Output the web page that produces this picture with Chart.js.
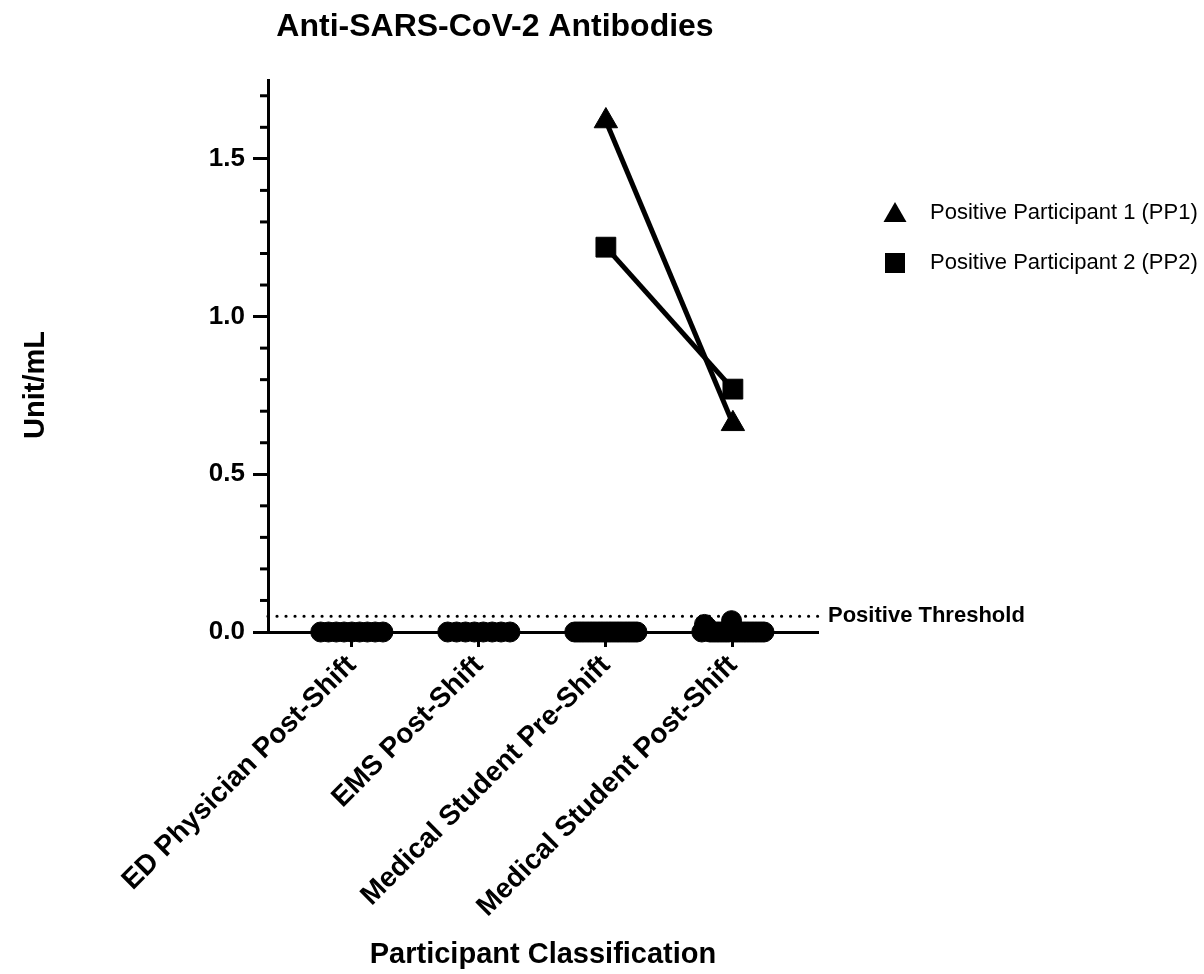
<!DOCTYPE html>
<html>
<head>
<meta charset="utf-8">
<script src="https://cdn.jsdelivr.net/npm/chart.js@4/dist/chart.umd.min.js"></script>
<style>
  html, body { margin: 0; padding: 0; background: #fff; }
  #wrap { width: 1204px; height: 974px; }
</style>
</head>
<body>
<div id="wrap"><canvas id="c" width="1204" height="974"></canvas></div>
<script>
// ---- data ----
const categories = ['ED Physician Post-Shift', 'EMS Post-Shift', 'Medical Student Pre-Shift', 'Medical Student Post-Shift'];
const edPhysicianPost = [0, 0, 0, 0, 0, 0, 0, 0, 0];
const emsPost = [0, 0, 0, 0, 0, 0, 0, 0];
const medStudentPre = [0, 0, 0, 0, 0, 0, 0, 0, 0, 0, 0, 0, 0, 0, 0, 0, 0, 0, 0, 0, 0, 0, 0, 0];
const medStudentPost = [0, 0.024, 0.015, 0, 0, 0, 0, 0, 0, 0, 0, 0.036, 0, 0, 0, 0, 0, 0, 0, 0, 0, 0, 0, 0];
const pp1Values = [1.62, 0.66];   // pre-shift, post-shift
const pp2Values = [1.22, 0.77];
const ppCategoryIdx = [3, 4];
const positiveThreshold = 0.05;
const yTickValues = [0, 0.5, 1.0, 1.5];
const yMinorStep = 0.1;
const Y_MIN = 0, Y_MAX = 1.75;
const X_MIN = 0.34, X_MAX = 4.67;

const FONT = 'Arial, "Liberation Sans", Helvetica, sans-serif';
const SPREAD = 0.245;

function spread(values, cat) {
  const n = values.length;
  return values.map((v, i) => ({ x: cat + (n === 1 ? 0 : -SPREAD + i * 2 * SPREAD / (n - 1)), y: v }));
}

const groupDots = [].concat(
  spread(edPhysicianPost, 1),
  spread(emsPost, 2),
  spread(medStudentPre, 3),
  spread(medStudentPost, 4)
);

const extras = {
  id: 'extras',
  afterDraw(chart) {
    const ctx = chart.ctx;
    const ca = chart.chartArea;
    const ys = chart.scales.y;
    ctx.save();
    // minor ticks
    ctx.strokeStyle = '#000';
    ctx.lineWidth = 3;
    const nMinor = Math.floor(Y_MAX / yMinorStep + 1e-9);
    for (let i = 1; i <= nMinor; i++) {
      if (i % 5 === 0) continue;
      const py = ys.getPixelForValue(i * yMinorStep);
      ctx.beginPath();
      ctx.moveTo(ca.left - 8, py);
      ctx.lineTo(ca.left, py);
      ctx.stroke();
    }
    ctx.fillStyle = '#000';
    // title
    ctx.font = 'bold 32px ' + FONT;
    ctx.textAlign = 'center';
    ctx.textBaseline = 'alphabetic';
    ctx.fillText('Anti-SARS-CoV-2 Antibodies', 495, 36);
    // x title
    ctx.font = 'bold 29px ' + FONT;
    ctx.textBaseline = 'middle';
    ctx.fillText('Participant Classification', (ca.left + ca.right) / 2, 955);
    // y title
    ctx.save();
    ctx.translate(36, 385);
    ctx.rotate(-Math.PI / 2);
    ctx.fillText('Unit/mL', 0, 0);
    ctx.restore();
    // threshold label
    ctx.font = 'bold 22px ' + FONT;
    ctx.textAlign = 'left';
    ctx.fillText('Positive Threshold', ca.right + 10, ys.getPixelForValue(positiveThreshold));
    // legend
    const lx = ca.right + 77, tx = ca.right + 112;
    const r1 = 213, r2 = 263;
    ctx.beginPath();
    ctx.moveTo(lx, r1 - 11);
    ctx.lineTo(lx + 11.5, r1 + 9);
    ctx.lineTo(lx - 11.5, r1 + 9);
    ctx.closePath();
    ctx.fill();
    ctx.fillRect(lx - 10, r2 - 10, 20, 20);
    ctx.font = '22px ' + FONT;
    ctx.fillText('Positive Participant 1 (PP1)', tx, r1);
    ctx.fillText('Positive Participant 2 (PP2)', tx, r2);
    ctx.restore();
  }
};

new Chart(document.getElementById('c'), {
  type: 'scatter',
  data: {
    datasets: [
      {
        label: 'PP1',
        data: ppCategoryIdx.map((c, i) => ({ x: c, y: pp1Values[i] })),
        showLine: true,
        borderColor: '#000',
        borderWidth: 5,
        pointStyle: 'triangle',
        pointRadius: 13.5,
        pointHoverRadius: 13.5,
        pointBackgroundColor: '#000',
        pointBorderColor: '#000',
        pointBorderWidth: 1,
        clip: false
      },
      {
        label: 'PP2',
        data: ppCategoryIdx.map((c, i) => ({ x: c, y: pp2Values[i] })),
        showLine: true,
        borderColor: '#000',
        borderWidth: 5,
        pointStyle: 'rect',
        pointRadius: 14,
        pointHoverRadius: 14,
        pointBackgroundColor: '#000',
        pointBorderColor: '#000',
        pointBorderWidth: 1,
        clip: false
      },
      {
        label: 'Participants',
        data: groupDots,
        pointStyle: 'circle',
        pointRadius: 10,
        pointHoverRadius: 10,
        pointBackgroundColor: '#000',
        pointBorderColor: '#000',
        pointBorderWidth: 1,
        clip: false
      },
      {
        label: 'Threshold',
        data: [{ x: X_MIN, y: positiveThreshold }, { x: X_MAX, y: positiveThreshold }],
        showLine: true,
        borderColor: '#000',
        borderWidth: 3.2,
        borderDash: [0.01, 9],
        borderCapStyle: 'round',
        pointRadius: 0,
        pointHoverRadius: 0,
        clip: false
      }
    ]
  },
  options: {
    responsive: false,
    animation: false,
    devicePixelRatio: 1,
    layout: { padding: { top: 80, right: 386, left: 0, bottom: 0 } },
    plugins: { legend: { display: false }, tooltip: { enabled: false }, title: { display: false } },
    scales: {
      x: {
        type: 'linear',
        min: X_MIN,
        max: X_MAX,
        afterBuildTicks(scale) { scale.ticks = categories.map((c, i) => ({ value: i + 1 })); },
        afterFit(scale) { scale.height = 342; },
        ticks: {
          autoSkip: false,
          minRotation: 45,
          maxRotation: 45,
          padding: 2,
          color: '#000',
          font: { family: FONT, size: 28, weight: 'bold' },
          callback: (v) => categories[Math.round(v) - 1] || ''
        },
        grid: { drawOnChartArea: false, drawTicks: true, tickLength: 15, tickWidth: 3, tickColor: '#000' },
        border: { display: true, color: '#000', width: 3 }
      },
      y: {
        type: 'linear',
        min: Y_MIN,
        max: Y_MAX,
        afterBuildTicks(scale) { scale.ticks = yTickValues.map(v => ({ value: v })); },
        afterFit(scale) { scale.width = 268; },
        ticks: {
          padding: 8,
          color: '#000',
          font: { family: FONT, size: 26, weight: 'bold' },
          callback: (v) => Number(v).toFixed(1)
        },
        grid: { drawOnChartArea: false, drawTicks: true, tickLength: 15, tickWidth: 3, tickColor: '#000' },
        border: { display: true, color: '#000', width: 3 }
      }
    }
  },
  plugins: [extras]
});
</script>
</body>
</html>
